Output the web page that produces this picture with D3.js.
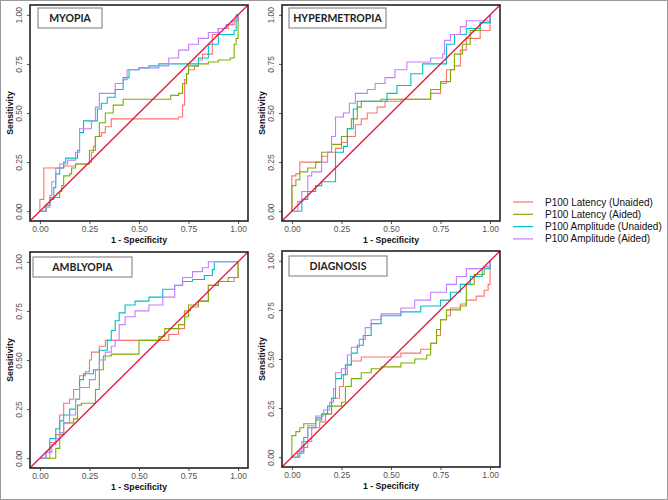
<!DOCTYPE html>
<html>
<head>
<meta charset="utf-8">
<script src="https://cdn.jsdelivr.net/npm/d3@7.9.0/dist/d3.min.js"></script>
<style>
  body { margin: 0; background: #fff; }
  svg { display: block; }
</style>
</head>
<body>
<svg id="chart" width="668" height="500"></svg>
<script>
// series + panel labels
const seriesNames = ['P100 Latency (Unaided)', 'P100 Latency (Aided)', 'P100 Amplitude (Unaided)', 'P100 Amplitude (Aided)'];
const seriesColors = ['#F8766D', '#7CAE00', '#00BFC4', '#C77CFF'];
const panelTitles = ['MYOPIA', 'HYPERMETROPIA', 'AMBLYOPIA', 'DIAGNOSIS'];
const tickValues = [0, 0.25, 0.5, 0.75, 1];

// [1 - specificity, sensitivity]
const myopiaLatUnaided = [[0,0],[0,0.06],[0.01,0.06],[0.02,0.13],[0.02,0.22],[0.10,0.22],[0.12,0.23],[0.18,0.24],[0.25,0.25],[0.26,0.30],[0.27,0.33],[0.28,0.38],[0.31,0.40],[0.33,0.43],[0.36,0.47],[0.50,0.47],[0.70,0.48],[0.72,0.50],[0.72,0.54],[0.73,0.67],[0.74,0.70],[0.75,0.72],[0.78,0.74],[0.80,0.77],[0.82,0.80],[0.87,0.90],[0.90,0.93],[0.95,0.95],[0.98,0.97],[1,1]];
const myopiaLatAided = [[0,0],[0.03,0.03],[0.05,0.07],[0.08,0.07],[0.10,0.10],[0.11,0.13],[0.12,0.18],[0.15,0.19],[0.16,0.22],[0.18,0.24],[0.25,0.24],[0.25,0.31],[0.28,0.38],[0.30,0.45],[0.33,0.50],[0.37,0.54],[0.42,0.57],[0.65,0.57],[0.66,0.59],[0.70,0.60],[0.72,0.65],[0.74,0.70],[0.75,0.74],[0.80,0.75],[0.85,0.76],[0.90,0.77],[0.96,0.78],[0.98,0.85],[0.99,0.88],[1,1]];
const myopiaAmpUnaided = [[0,0],[0.03,0.03],[0.05,0.06],[0.07,0.12],[0.08,0.19],[0.10,0.22],[0.12,0.25],[0.13,0.27],[0.17,0.27],[0.19,0.31],[0.20,0.40],[0.22,0.46],[0.28,0.46],[0.29,0.52],[0.31,0.55],[0.34,0.58],[0.38,0.62],[0.42,0.68],[0.45,0.72],[0.50,0.73],[0.55,0.74],[0.60,0.75],[0.75,0.75],[0.80,0.78],[0.85,0.85],[0.90,0.90],[0.98,0.92],[0.99,1],[1,1]];
const myopiaAmpAided = [[0,0],[0.03,0.02],[0.05,0.08],[0.06,0.15],[0.08,0.22],[0.10,0.24],[0.14,0.26],[0.18,0.30],[0.20,0.38],[0.20,0.42],[0.23,0.42],[0.26,0.46],[0.28,0.53],[0.30,0.60],[0.35,0.60],[0.38,0.65],[0.42,0.67],[0.44,0.72],[0.50,0.73],[0.60,0.74],[0.65,0.78],[0.70,0.82],[0.75,0.85],[0.80,0.88],[0.85,0.91],[0.90,0.93],[0.94,0.95],[0.97,0.97],[1,1]];

const hyperLatUnaided = [[0,0],[0,0.18],[0.02,0.19],[0.04,0.25],[0.13,0.25],[0.15,0.28],[0.18,0.30],[0.22,0.32],[0.25,0.35],[0.28,0.38],[0.32,0.44],[0.35,0.47],[0.38,0.50],[0.43,0.53],[0.47,0.56],[0.55,0.57],[0.65,0.57],[0.70,0.60],[0.75,0.65],[0.78,0.72],[0.82,0.74],[0.85,0.82],[0.88,0.88],[0.95,0.92],[1,1]];
const hyperLatAided = [[0,0],[0,0.13],[0.02,0.16],[0.04,0.20],[0.08,0.22],[0.12,0.25],[0.15,0.30],[0.20,0.34],[0.25,0.38],[0.28,0.42],[0.30,0.47],[0.33,0.53],[0.35,0.56],[0.45,0.57],[0.65,0.57],[0.70,0.62],[0.75,0.66],[0.80,0.72],[0.82,0.80],[0.86,0.85],[0.90,0.92],[0.95,0.96],[1,1]];
const hyperAmpUnaided = [[0,0],[0.05,0],[0.05,0.06],[0.08,0.10],[0.12,0.13],[0.15,0.15],[0.21,0.15],[0.22,0.22],[0.22,0.30],[0.26,0.33],[0.28,0.42],[0.31,0.52],[0.33,0.56],[0.43,0.56],[0.48,0.60],[0.53,0.64],[0.60,0.70],[0.66,0.75],[0.75,0.75],[0.78,0.85],[0.82,0.90],[0.88,0.93],[0.95,0.96],[1,1]];
const hyperAmpAided = [[0,0],[0.03,0.05],[0.05,0.10],[0.08,0.18],[0.10,0.20],[0.15,0.25],[0.18,0.30],[0.20,0.38],[0.22,0.48],[0.26,0.50],[0.29,0.55],[0.32,0.60],[0.38,0.62],[0.42,0.65],[0.47,0.68],[0.52,0.72],[0.58,0.76],[0.70,0.78],[0.76,0.80],[0.77,0.87],[0.80,0.90],[0.85,0.94],[0.88,0.97],[0.97,0.97],[1,1]];

const amblyLatUnaided = [[0,0],[0.03,0],[0.05,0.08],[0.08,0.12],[0.10,0.22],[0.12,0.28],[0.15,0.30],[0.17,0.35],[0.20,0.42],[0.23,0.44],[0.25,0.50],[0.26,0.54],[0.30,0.57],[0.33,0.60],[0.60,0.60],[0.65,0.63],[0.70,0.66],[0.73,0.67],[0.73,0.75],[0.76,0.77],[0.80,0.80],[0.85,0.88],[0.90,0.90],[0.98,0.92],[1,0.93],[1,1]];
const amblyLatAided = [[0,0],[0.08,0],[0.08,0.05],[0.10,0.12],[0.12,0.18],[0.17,0.20],[0.19,0.27],[0.21,0.28],[0.25,0.28],[0.28,0.35],[0.30,0.45],[0.32,0.52],[0.36,0.53],[0.45,0.53],[0.50,0.60],[0.60,0.62],[0.63,0.66],[0.70,0.68],[0.73,0.72],[0.75,0.78],[0.80,0.80],[0.85,0.88],[0.90,0.90],[0.95,0.92],[1,0.95],[1,1]];
const amblyAmpUnaided = [[0,0],[0.03,0.03],[0.05,0.10],[0.08,0.15],[0.10,0.19],[0.12,0.22],[0.15,0.25],[0.18,0.30],[0.20,0.40],[0.22,0.43],[0.27,0.45],[0.30,0.55],[0.34,0.60],[0.36,0.65],[0.38,0.70],[0.40,0.74],[0.43,0.78],[0.48,0.80],[0.55,0.82],[0.62,0.86],[0.68,0.88],[0.72,0.90],[0.77,0.91],[0.83,0.93],[0.87,0.96],[0.88,1],[1,1]];
const amblyAmpAided = [[0,0],[0.03,0.03],[0.06,0.07],[0.08,0.10],[0.10,0.13],[0.12,0.18],[0.15,0.22],[0.18,0.30],[0.20,0.36],[0.25,0.40],[0.28,0.45],[0.30,0.50],[0.33,0.54],[0.36,0.57],[0.38,0.60],[0.40,0.68],[0.43,0.72],[0.48,0.75],[0.55,0.78],[0.62,0.82],[0.68,0.88],[0.72,0.92],[0.77,0.95],[0.82,0.97],[0.85,1],[1,1]];

const diagLatUnaided = [[0,0],[0.03,0.02],[0.06,0.05],[0.08,0.08],[0.10,0.15],[0.14,0.18],[0.17,0.22],[0.20,0.30],[0.24,0.36],[0.26,0.42],[0.28,0.47],[0.30,0.49],[0.35,0.51],[0.45,0.51],[0.55,0.53],[0.65,0.55],[0.70,0.58],[0.73,0.62],[0.75,0.70],[0.78,0.72],[0.80,0.76],[0.85,0.78],[0.88,0.80],[0.93,0.82],[0.97,0.85],[0.99,0.88],[1,1]];
const diagLatAided = [[0,0],[0,0.11],[0.02,0.13],[0.04,0.15],[0.06,0.17],[0.10,0.17],[0.12,0.19],[0.15,0.22],[0.20,0.26],[0.25,0.28],[0.27,0.36],[0.30,0.40],[0.35,0.43],[0.40,0.45],[0.45,0.46],[0.55,0.48],[0.62,0.50],[0.68,0.52],[0.70,0.58],[0.73,0.65],[0.75,0.70],[0.78,0.75],[0.85,0.77],[0.88,0.88],[0.92,0.93],[0.97,0.97],[1,1]];
const diagAmpUnaided = [[0,0],[0.04,0.03],[0.06,0.10],[0.08,0.15],[0.12,0.20],[0.15,0.22],[0.18,0.26],[0.20,0.30],[0.22,0.40],[0.25,0.42],[0.27,0.47],[0.30,0.53],[0.33,0.57],[0.36,0.62],[0.40,0.68],[0.45,0.72],[0.55,0.74],[0.65,0.77],[0.75,0.80],[0.80,0.84],[0.85,0.88],[0.90,0.92],[0.96,0.96],[1,1]];
const diagAmpAided = [[0,0],[0.03,0.02],[0.05,0.08],[0.08,0.16],[0.12,0.21],[0.16,0.24],[0.19,0.28],[0.21,0.35],[0.22,0.43],[0.25,0.45],[0.28,0.52],[0.30,0.56],[0.34,0.60],[0.37,0.66],[0.40,0.70],[0.45,0.73],[0.55,0.76],[0.62,0.80],[0.70,0.84],[0.78,0.88],[0.83,0.92],[0.88,0.96],[0.97,0.97],[1,1]];

const panelCurves = [
  [myopiaLatUnaided, myopiaLatAided, myopiaAmpUnaided, myopiaAmpAided],
  [hyperLatUnaided, hyperLatAided, hyperAmpUnaided, hyperAmpAided],
  [amblyLatUnaided, amblyLatAided, amblyAmpUnaided, amblyAmpAided],
  [diagLatUnaided, diagLatAided, diagAmpUnaided, diagAmpAided]
];

// panel frames (layout only)
const frames = [
  { x: 30, y: 5, box: [8, 3, 64] },
  { x: 282, y: 5, box: [7, 3, 97] },
  { x: 30, y: 252, box: [3, 5, 99] },
  { x: 282, y: 251, box: [7, 5, 98] }
];
const W = 218, H = 216;

const svg = d3.select('#chart');
svg.append('rect').attr('x', 0.5).attr('y', 0.5).attr('width', 667).attr('height', 499)
  .attr('fill', '#fff').attr('stroke', '#9a9a9a');

const x = d3.scaleLinear().domain([-0.05, 1.05]).range([0, W]);
const y = d3.scaleLinear().domain([-0.05, 1.05]).range([H, 0]);
const line = d3.line().x(d => x(d[0])).y(d => y(d[1])).curve(d3.curveStepAfter);

frames.forEach((f, i) => {
  const g = svg.append('g').attr('transform', `translate(${f.x},${f.y})`);

  g.append('defs').append('clipPath').attr('id', 'clip' + i)
    .append('rect').attr('width', W).attr('height', H);

  // axes
  const xAxis = g.append('g').attr('transform', `translate(0,${H})`)
    .call(d3.axisBottom(x).tickValues(tickValues).tickFormat(d3.format('.2f')).tickSize(3).tickPadding(2));
  const yAxis = g.append('g')
    .call(d3.axisLeft(y).tickValues(tickValues).tickFormat(d3.format('.2f')).tickSize(3).tickPadding(2));
  [xAxis, yAxis].forEach(a => {
    a.select('.domain').remove();
    a.selectAll('line').attr('stroke', '#555');
    a.selectAll('text').attr('fill', '#555').style('font', '8.5px "Liberation Sans", Arial, sans-serif');
  });
  yAxis.selectAll('text')
    .attr('text-anchor', 'middle')
    .attr('transform', 'translate(-8,0) rotate(-90)')
    .attr('x', 0).attr('dy', '0');

  g.append('text').attr('x', W / 2).attr('y', H + 22).attr('text-anchor', 'middle')
    .style('font', 'bold 8.7px "Liberation Sans", Arial, sans-serif').attr('fill', '#111')
    .text('1 - Specificity');
  g.append('text').attr('transform', `translate(-17,${H / 2}) rotate(-90)`).attr('text-anchor', 'middle')
    .style('font', 'bold 8.7px "Liberation Sans", Arial, sans-serif').attr('fill', '#111')
    .text('Sensitivity');

  const plot = g.append('g').attr('clip-path', `url(#clip${i})`);

  panelCurves[i].forEach((pts, s) => {
    plot.append('path').datum(pts).attr('d', line)
      .attr('fill', 'none').attr('stroke', seriesColors[s]).attr('stroke-width', 1.1);
  });

  // chance line across the whole panel
  plot.append('line')
    .attr('x1', x(-0.05)).attr('y1', y(-0.05)).attr('x2', x(1.05)).attr('y2', y(1.05))
    .attr('stroke', '#e2173f').attr('stroke-width', 1.3);

  g.append('rect').attr('width', W).attr('height', H)
    .attr('fill', 'none').attr('stroke', '#222').attr('stroke-width', 1.6);

  // title box
  const [bx, by, bw] = f.box;
  g.append('rect').attr('x', bx).attr('y', by).attr('width', bw).attr('height', 20)
    .attr('fill', '#fff').attr('stroke', '#777').attr('stroke-width', 1);
  g.append('text').attr('x', bx + bw / 2).attr('y', by + 14).attr('text-anchor', 'middle')
    .style('font', 'bold 10.5px Lato, "Open Sans", sans-serif').attr('fill', '#222')
    .text(panelTitles[i]);
});

// legend
const legend = svg.append('g').attr('transform', 'translate(513,202)');
seriesNames.forEach((name, s) => {
  const row = legend.append('g').attr('transform', `translate(0,${s * 12.3})`);
  row.append('line').attr('x1', 0).attr('x2', 20).attr('stroke', seriesColors[s]).attr('stroke-width', 1.2);
  row.append('text').attr('x', 32).attr('dy', '0.35em')
    .style('font', '10px "Liberation Sans", Arial, sans-serif').attr('fill', '#111')
    .text(name);
});
</script>
</body>
</html>
